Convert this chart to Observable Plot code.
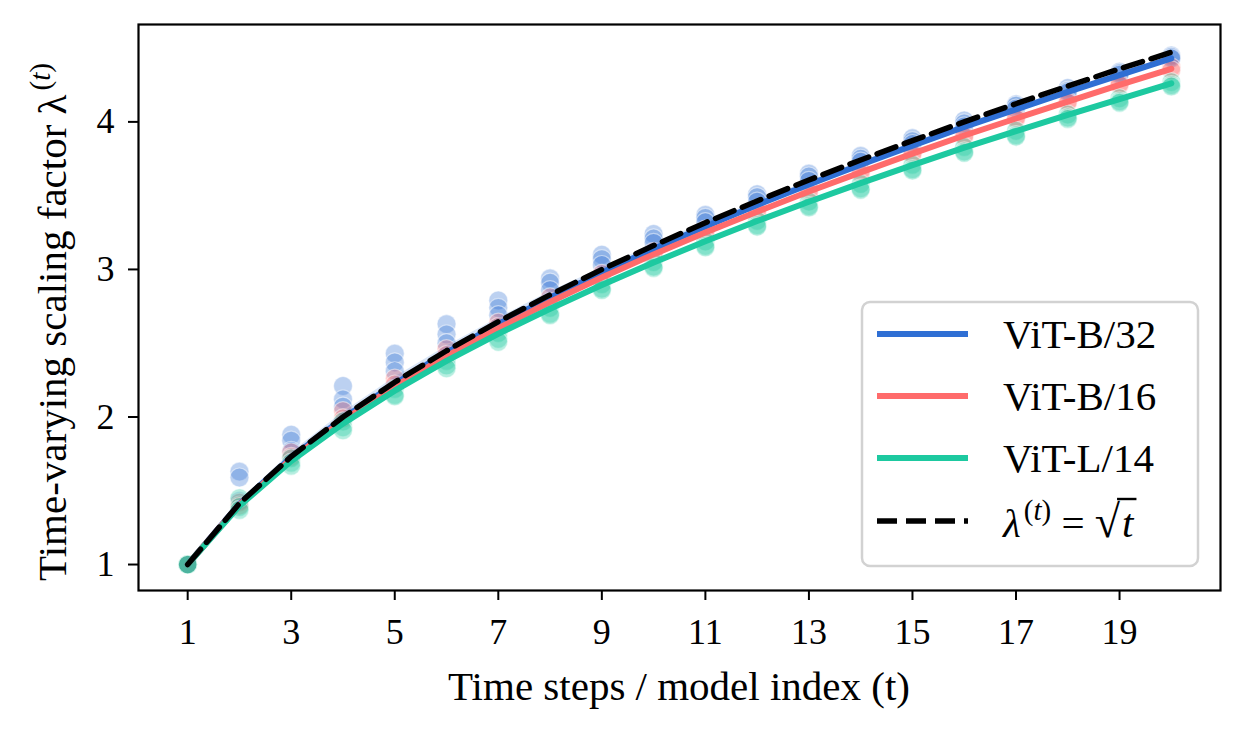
<!DOCTYPE html>
<html>
<head>
<meta charset="utf-8">
<script src="https://cdn.jsdelivr.net/npm/d3@7"></script>
<script src="https://cdn.jsdelivr.net/npm/@observablehq/plot@0.6"></script>
<style>
  html, body { margin: 0; padding: 0; background: #fff; }
  #chart svg { display: block; }
</style>
</head>
<body>
<div id="chart"></div>
<script>
// ---------------- data ----------------
const steps = [1,2,3,4,5,6,7,8,9,10,11,12,13,14,15,16,17,18,19,20];
const xTicks = [1,3,5,7,9,11,13,15,17,19];
const yTicks = [1,2,3,4];
const models = ["ViT-B/32", "ViT-B/16", "ViT-L/14"];
const colors = ["#2F6FD4", "#FF6B6B", "#1DC9A0"];

// fitted lines per model
const lineB32 = [1.0,1.411,1.726,1.991,2.224,2.436,2.630,2.809,2.979,3.140,3.291,3.437,3.576,3.710,3.839,3.966,4.085,4.203,4.317,4.430];
const lineB16 = [1.0,1.406,1.716,1.976,2.206,2.413,2.602,2.779,2.945,3.102,3.251,3.391,3.528,3.658,3.785,3.908,4.023,4.137,4.251,4.360];
const lineL14 = [1.0,1.398,1.702,1.955,2.178,2.380,2.564,2.734,2.895,3.047,3.191,3.328,3.459,3.585,3.707,3.825,3.937,4.048,4.155,4.261];
// pale band above ViT-B/32 line
const bandB32Hi = [1.0,1.43,1.76,2.03,2.27,2.48,2.67,2.85,3.01,3.17,3.32,3.46,3.60,3.73,3.86,3.98,4.10,4.21,4.33,4.44];
// reference curve lambda = sqrt(t)
const sqrtRef = [1.0,1.414,1.732,2.0,2.236,2.449,2.646,2.828,3.0,3.162,3.317,3.464,3.606,3.742,3.873,4.0,4.123,4.243,4.359,4.472];

// individual measurements (scatter) per model
const ptsB32 = [
  [1.0,1.63,1.88,2.21,2.43,2.63,2.79,2.94,3.10,3.24,3.37,3.51,3.65,3.77,3.89,4.01,4.12,4.23,4.34,4.45],
  [1.0,1.59,1.84,2.12,2.37,2.56,2.74,2.91,3.07,3.21,3.35,3.49,3.63,3.75,3.87,3.99,4.11,4.21,4.33,4.44],
  [1.0,1.43,1.77,2.07,2.31,2.50,2.69,2.86,3.03,3.18,3.32,3.46,3.60,3.73,3.85,3.97,4.09,4.20,4.32,4.43]
];
const ptsB16 = [
  [1.0,1.42,1.76,2.04,2.26,2.46,2.64,2.81,2.97,3.12,3.27,3.41,3.54,3.67,3.79,3.91,4.03,4.14,4.26,4.37],
  [1.0,1.40,1.73,1.99,2.22,2.42,2.61,2.78,2.94,3.10,3.25,3.39,3.52,3.65,3.78,3.90,4.02,4.13,4.25,4.35]
];
const ptsL14 = [
  [1.0,1.45,1.72,1.97,2.19,2.38,2.57,2.74,2.90,3.05,3.19,3.33,3.46,3.58,3.71,3.83,3.94,4.05,4.16,4.27],
  [1.0,1.39,1.69,1.93,2.15,2.35,2.53,2.70,2.87,3.02,3.16,3.30,3.43,3.55,3.68,3.80,3.91,4.03,4.14,4.25],
  [1.0,1.37,1.67,1.91,2.14,2.33,2.51,2.69,2.86,3.01,3.15,3.29,3.42,3.54,3.67,3.79,3.90,4.02,4.13,4.24]
];

// ---------------- build tables ----------------
const lineSets = [lineB32, lineB16, lineL14];
const ptSets = [ptsB32, ptsB16, ptsL14];
const lineRows = [];
lineSets.forEach((arr, m) => arr.forEach((v, i) => lineRows.push({t: steps[i], v, model: models[m]})));
const ptRows = [];
ptSets.forEach((runs, m) => runs.forEach(run => run.forEach((v, i) => ptRows.push({t: steps[i], v, model: models[m], c: colors[m]}))));
const bandRows = steps.map((t, i) => ({t, lo: lineB32[i], hi: bandB32Hi[i]}));
const refRows = steps.map((t, i) => ({t, v: sqrtRef[i]}));

const W = 1246, H = 734;
const mL = 138, mR = 26, mT = 24, mB = 144;
const FONT = "'Liberation Serif', 'Times New Roman', serif";

const chart = Plot.plot({
  width: W, height: H,
  marginLeft: mL, marginRight: mR, marginTop: mT, marginBottom: mB,
  style: {fontFamily: FONT, fontSize: "36px", color: "#000", background: "#fff"},
  x: {type: "linear", domain: [0.05, 20.95], ticks: xTicks, label: null},
  y: {type: "linear", domain: [0.824, 4.66], ticks: yTicks, label: null},
  color: {domain: models, range: colors},
  marks: [
    Plot.dot(ptRows, {x: "t", y: "v", r: 9.5, fill: "c", fillOpacity: 0.32, stroke: "white", strokeWidth: 1.2, strokeOpacity: 0.5}),
    Plot.areaY(bandRows, {x: "t", y1: "lo", y2: "hi", fill: colors[0], fillOpacity: 0.18}),
    Plot.line(lineRows, {x: "t", y: "v", z: "model", stroke: "model", strokeWidth: 6}),
    Plot.line(refRows, {x: "t", y: "v", stroke: "black", strokeWidth: 5.5, strokeDasharray: "20,9"}),
    Plot.frame({stroke: "black", strokeWidth: 2.2}),
    Plot.axisX({ticks: xTicks, tickSize: 10, tickPadding: 18, tickFormat: d => String(d), fontSize: 36, label: null, strokeWidth: 2}),
    Plot.axisY({ticks: yTicks, tickSize: 10, tickPadding: 14, tickFormat: d => String(d), fontSize: 36, label: null, strokeWidth: 2})
  ]
});
document.getElementById("chart").appendChild(chart);

// ---------------- labels & legend ----------------
const svg = d3.select(chart);

svg.append("text")
  .attr("x", (mL + W - mR) / 2).attr("y", 700)
  .attr("text-anchor", "middle").attr("font-family", FONT).attr("font-size", 41)
  .text("Time steps / model index (t)");

const yl = svg.append("text")
  .attr("transform", "translate(66," + 322 + ") rotate(-90)")
  .attr("text-anchor", "middle").attr("font-family", FONT).attr("font-size", 41);
yl.append("tspan").text("Time-varying scaling factor λ");
const ysup = yl.append("tspan").attr("dy", -16).attr("font-size", 29).attr("dx", 4);
ysup.append("tspan").text("(");
ysup.append("tspan").attr("font-style", "italic").text("t");
ysup.append("tspan").text(")");

// legend
const lg = svg.append("g").attr("text-anchor", "start");
lg.append("rect").attr("x", 862).attr("y", 302).attr("width", 336).attr("height", 264)
  .attr("rx", 8).attr("fill", "white").attr("fill-opacity", 0.85)
  .attr("stroke", "#d2d2d2").attr("stroke-width", 2.5);
const rowsY = [334, 396, 458, 521];
models.forEach((m, i) => {
  lg.append("line").attr("x1", 877).attr("x2", 968).attr("y1", rowsY[i]).attr("y2", rowsY[i])
    .attr("stroke", colors[i]).attr("stroke-width", 6);
  lg.append("text").attr("x", 1003).attr("y", rowsY[i] + 14).attr("text-anchor", "start")
    .attr("font-family", FONT).attr("font-size", 41).text(m);
});
lg.append("line").attr("x1", 877).attr("x2", 968).attr("y1", rowsY[3]).attr("y2", rowsY[3])
  .attr("stroke", "black").attr("stroke-width", 5.5).attr("stroke-dasharray", "20,9");
const mt = lg.append("text").attr("x", 1003).attr("y", rowsY[3] + 16).attr("text-anchor", "start")
  .attr("font-family", FONT).attr("font-size", 41);
mt.append("tspan").attr("font-style", "italic").text("λ");
const msup = mt.append("tspan").attr("dy", -17).attr("dx", 3).attr("font-size", 29);
msup.append("tspan").text("(");
msup.append("tspan").attr("font-style", "italic").text("t");
msup.append("tspan").text(")");
mt.append("tspan").attr("dy", 17).text(" = ");
mt.append("tspan").attr("font-size", 46).text("√");
mt.append("tspan").attr("font-style", "italic").attr("dx", 2).text("t");
let barX1 = 1128, barX2 = 1152;
try {
  const n = mt.node();
  const k = n.getNumberOfChars();
  const eR = n.getExtentOfChar(k - 2);
  const eT = n.getExtentOfChar(k - 1);
  barX1 = eR.x + eR.width - 3;
  barX2 = eT.x + eT.width + 3;
} catch (e) {}
lg.append("line").attr("x1", barX1).attr("x2", barX2)
  .attr("y1", rowsY[3] - 22).attr("y2", rowsY[3] - 22)
  .attr("stroke", "black").attr("stroke-width", 2.4);
</script>
</body>
</html>
